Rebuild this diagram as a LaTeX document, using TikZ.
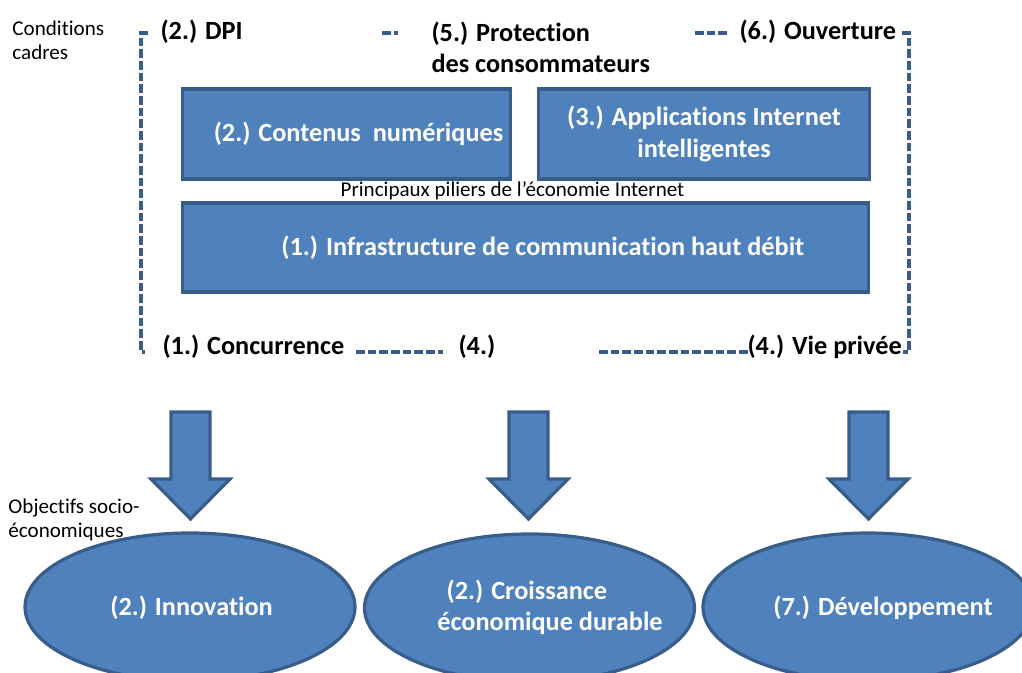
\documentclass[tikz,border=0pt]{standalone}
\usepackage{fontspec}
\setmainfont{Carlito}[Ligatures=NoCommon]
\usetikzlibrary{shapes.geometric}
\definecolor{boxfill}{RGB}{79,129,189}
\definecolor{boxline}{RGB}{56,93,138}
\tikzset{every picture/.style={line width=0.75pt}}

\begin{document}
\begin{tikzpicture}[x=0.75pt,y=0.75pt,yscale=-1,xscale=1,
	pillar/.style={draw=boxline, fill=boxfill, line width=2.4pt, text=white, font=\bfseries\fontsize{19.7}{24}\selectfont, inner sep=0pt, align=center},
	goal/.style={ellipse, draw=boxline, fill=boxfill, line width=2.4pt, minimum width=247.5pt, minimum height=111pt, inner sep=0pt},
	goaltext/.style={text=white, font=\bfseries\fontsize{19.7}{23.5}\selectfont, inner sep=0pt, align=left},
	framing/.style={draw=boxline, line width=2.9pt, dash pattern=on 6.5pt off 2.25pt},
	cond/.style={font=\bfseries\fontsize{19.7}{23.25}\selectfont, anchor=west, inner sep=0pt, align=left},
	remark/.style={font=\fontsize{15.8}{18}\selectfont, inner sep=0pt, align=left},
	blockarrow/.style={draw=boxline, fill=boxfill, line width=2.4pt}]
	\useasboundingbox (0,0) rectangle (1022,673);
	
	%Dashed frame (conditions cadres)
	\draw [framing] (148,33) -- (141,33) -- (141,352) -- (145,352) ;
	\draw [framing] (382,33) -- (398,33) ;
	\draw [framing] (695,33) -- (727,33) ;
	\draw [framing] (902,33) -- (909,33) -- (909,352) -- (903,352) ;
	\draw [framing] (356,352) -- (443,352) ;
	\draw [framing] (599,352) -- (752,352) ;
	
	% Frame labels
	\node [cond] (dpi) at (160,32) {(2.) DPI};
	\node [cond] (protection) at (431,47) {(5.) Protection\\des consommateurs};
	\node [cond] (ouverture) at (739,32) {(6.) Ouverture};
	\node [cond] (concurrence) at (162,347) {(1.) Concurrence};
	\node [cond] (quatre) at (458,347) {(4.)};
	\node [cond] (vieprivee) at (747,347) {(4.) Vie privée};
	
	% Pillars
	\node [pillar, minimum width=246pt, minimum height=67.5pt] (contenus) at (346.5,134) {\hspace*{18pt}(2.) Contenus\ \ numériques};
	\node [pillar, minimum width=248.25pt, minimum height=67.5pt] (applications) at (704,134) {(3.) Applications Internet\\intelligentes};
	\node [pillar, minimum width=514.5pt, minimum height=66.75pt] (infrastructure) at (525.5,247.5) {\hspace*{26pt}(1.) Infrastructure de communication haut débit};
	\node [remark] (piliers) at (512.5,191) {Principaux piliers de l’économie Internet};
	
	% Side notes
	\node [remark, anchor=west] (conditions) at (12,40) {Conditions\\cadres};
	
	% Block arrows
	\foreach \cx in {190.5,528.5,868.5} {
		\draw [blockarrow] (\cx-19.5,412) -- (\cx+19.5,412) -- (\cx+19.5,479) -- (\cx+39.5,479) -- (\cx,519) -- (\cx-39.5,479) -- (\cx-19.5,479) -- cycle ;
	}
	
	% Goals
	\node [goal] (innovation) at (190,607) {};
	\node [goal] (croissance) at (529.5,608) {};
	\node [goal] (developpement) at (868,607) {};
	\node [goaltext] (innovationtxt) at (191.5,608) {(2.) Innovation};
	\node [goaltext] (croissancetxt) at (550,607.5) {\hspace*{7pt}(2.) Croissance\\économique durable};
	\node [goaltext] (developpementtxt) at (883,608) {(7.) Développement};
	
	\node [remark, anchor=west] (objectifs) at (8,519.5) {Objectifs socio-\\économiques};
	
\end{tikzpicture}
\end{document}
